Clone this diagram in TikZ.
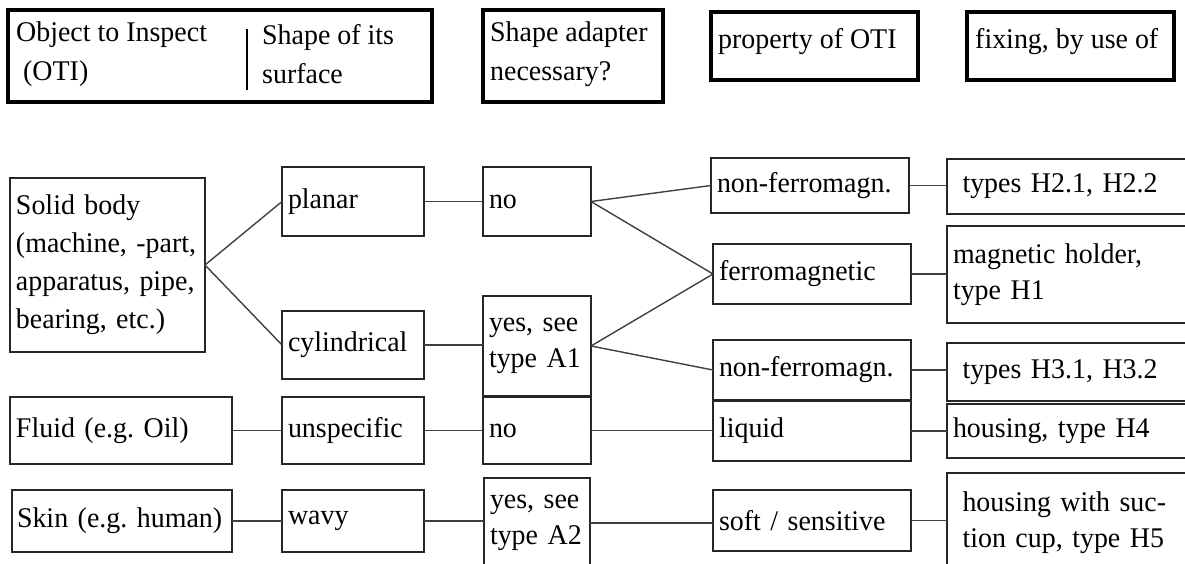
\documentclass[tikz,border=0pt]{standalone}
\usepackage{fontspec}
\setmainfont{Liberation Serif}[FakeStretch=0.98]
\begin{document}
\frenchspacing
\begin{tikzpicture}[x=1pt,y=-1pt,
  font=\fontsize{28.5}{36}\selectfont,
  bx/.style={draw=black!85, line width=1.3pt, anchor=north west, inner xsep=6pt, inner ysep=0pt, align=left, outer sep=0pt},
  hb/.style={draw=black, line width=3.6pt, anchor=north west, inner sep=0pt, outer sep=0pt},
  ln/.style={draw=black!75, line width=1.4pt},
  txt/.style={anchor=west, inner sep=0pt, align=left, font=\fontsize{28.5}{39}\selectfont}]
\useasboundingbox (0,0) rectangle (1185,563);
\clip (0,0) rectangle (1185,563);
% header boxes
\node[hb, minimum width=424pt, minimum height=92pt] (h1) at (8,10) {};
\node[hb, minimum width=180pt, minimum height=92pt] (h2) at (483,10) {};
\node[hb, minimum width=207pt, minimum height=68pt] (h3) at (711,12) {};
\node[hb, minimum width=207pt, minimum height=68pt] (h4) at (967,12) {};
\node[txt] (t1) at (16,54) {Object to Inspect\\\ (OTI)};
\node[txt] (t2) at (262,54) {Shape of its\\surface};
\coordinate (d1) at (247,29);
\coordinate (d2) at (247,90);
\draw[line width=1.6pt] (d1) -- (d2);
\node[txt] (t3) at (490,54) {Shape adapter\\necessary?};
\node[txt] (t4) at (718,42) {property of OTI};
\node[txt] (t5) at (975,42) {fixing, by use of};
% column 1
\node[bx, text width=183pt, minimum height=174pt, font=\fontsize{28.5}{38}\selectfont] (solid) at (10,178) {Solid body\\(machine, -part,\\apparatus, pipe,\\bearing, etc.)};
\node[bx, text width=210pt, minimum height=67pt] (fluid) at (10,397) {Fluid (e.g. Oil)};
\node[bx, text width=210pt, inner xsep=5pt, minimum height=62pt] (skin) at (12,490) {Skin (e.g. human)};
% column 2
\node[bx, text width=130pt, minimum height=69pt] (planar) at (282,167) {planar};
\node[bx, text width=130pt, minimum height=68pt] (cyl) at (282,311) {cylindrical};
\node[bx, text width=130pt, minimum height=67pt] (unspec) at (282,397) {unspecific};
\node[bx, text width=130pt, minimum height=62pt] (wavy) at (282,490) {wavy};
% column 3
\node[bx, text width=96pt, minimum height=69pt] (no1) at (483,167) {no};
\node[bx, text width=96pt, minimum height=100pt] (yes1) at (483,296) {yes, see\\type A1};
\node[bx, text width=96pt, minimum height=67pt] (no2) at (483,397) {no};
\node[bx, text width=94pt, minimum height=90pt] (yes2) at (484,478) {yes, see\\type A2};
% column 4
\node[bx, text width=186pt, minimum height=55pt] (nf1) at (711,158) {non-ferromagn.};
\node[bx, text width=186pt, minimum height=60pt] (ferro) at (713,244) {ferromagnetic};
\node[bx, text width=186pt, minimum height=60pt] (nf2) at (713,340) {non-ferromagn.};
\node[bx, text width=186pt, minimum height=60pt] (liquid) at (713,401) {liquid};
\node[bx, text width=186pt, minimum height=61pt] (soft) at (713,490) {soft / sensitive};
% column 5
\node[bx, text width=248pt, minimum height=55pt] (H2) at (947,159) {\ types H2.1, H2.2};
\node[bx, text width=248pt, minimum height=97pt] (mag) at (947,226) {magnetic holder,\\type H1};
\node[bx, text width=248pt, minimum height=58pt] (H3) at (947,343) {\ types H3.1, H3.2};
\node[bx, text width=248pt, minimum height=54pt] (H4) at (947,404) {housing, type H4};
\node[bx, text width=248pt, minimum height=100pt] (H5) at (947,473) {\ housing with suc-\\\ tion cup, type H5};
% connectors
\draw[ln] (solid.east) -- (planar.west);
\draw[ln] (solid.east) -- (cyl.west);
\draw[ln] (planar.east) -- (planar.east -| no1.west);
\draw[ln] (cyl.east) -- (cyl.east -| yes1.west);
\draw[ln] (no1.east) -- (nf1.west);
\draw[ln] (no1.east) -- (ferro.west);
\draw[ln] (yes1.east) -- (ferro.west);
\draw[ln] (yes1.east) -- (nf2.west);
\draw[ln] (nf1.east) -- (nf1.east -| H2.west);
\draw[ln] (ferro.east) -- (ferro.east -| mag.west);
\draw[ln] (nf2.east) -- (nf2.east -| H3.west);
\draw[ln] (fluid.east) -- (fluid.east -| unspec.west);
\draw[ln] (unspec.east) -- (unspec.east -| no2.west);
\draw[ln] (no2.east) -- (no2.east -| liquid.west);
\draw[ln] (liquid.east) -- (liquid.east -| H4.west);
\draw[ln] (skin.east) -- (skin.east -| wavy.west);
\draw[ln] (wavy.east) -- (wavy.east -| yes2.west);
\draw[ln] (yes2.east) -- (yes2.east -| soft.west);
\draw[ln] (soft.east) -- (soft.east -| H5.west);
\end{tikzpicture}
\end{document}
